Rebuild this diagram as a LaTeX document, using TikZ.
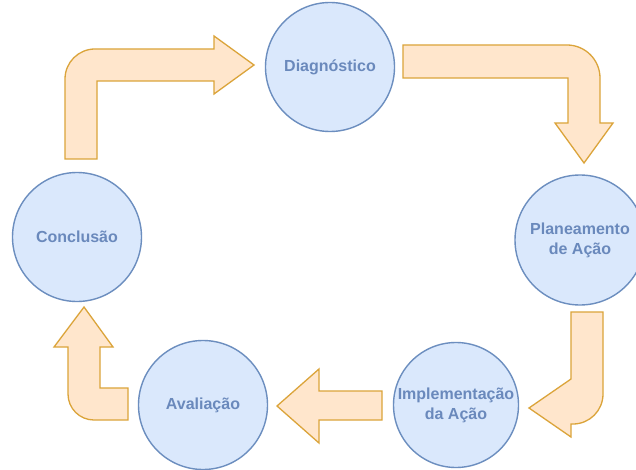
\documentclass[tikz,border=0pt]{standalone}
\usepackage{fontspec}
\setmainfont{Liberation Sans}
\definecolor{stagefill}{HTML}{DAE8FC}
\definecolor{stageline}{HTML}{6C8EBF}
\definecolor{stagetext}{HTML}{6A89BC}
\definecolor{flowfill}{HTML}{FFE6CC}
\definecolor{flowline}{HTML}{DBA43A}
\begin{document}
\begin{tikzpicture}[x=1pt,y=-1pt,
  stage/.style={circle, draw=stageline, fill=stagefill, line width=1.4pt,
    minimum size=#1, inner sep=0pt, align=center, text=stagetext,
    font=\fontsize{16}{20}\selectfont\bfseries},
  stage/.default=129pt,
  flow/.style={draw=flowline, fill=flowfill, line width=1.3pt, line join=miter}]
\useasboundingbox (0,0) rectangle (636,470);
\fill[white] (0,0) rectangle (636,470);

% stages of the cycle
\node[stage] (diag) at (330,67) {Diagnóstico};
\node[stage=130pt] (plan) at (580,240) {Planeamento\\de Ação};
\node[stage=125pt] (impl) at (456,405) {Implementação\\da Ação};
\node[stage] (aval) at (203,405) {Avaliação};
\node[stage] (conc) at (77,237) {Conclusão};

% Conclusão -> Diagnóstico (bent arrow, up then right)
\filldraw[flow] (65,159) -- (65,79)
  .. controls (65,62.4) and (78.4,49) .. (95,49)
  -- (214,49) -- (214,36) -- (254,65) -- (214,94) -- (214,81)
  -- (97,81) -- (97,159) -- cycle;

% Diagnóstico -> Planeamento (bent arrow, right then down)
\filldraw[flow] (403,45) -- (567,45)
  .. controls (585.2,45) and (600,59.8) .. (600,78)
  -- (600,123) -- (613,123) -- (584,163) -- (555,123) -- (568,123)
  -- (568,78) -- (403,78) -- cycle;

% Planeamento -> Implementação (hook arrow, down then left)
\filldraw[flow] (571,312) -- (603,312) -- (603,394)
  .. controls (603,410.6) and (589.6,424) .. (573,424)
  -- (571,424) -- (571,437) -- (529,408) -- (571,379) -- cycle;

% Implementação -> Avaliação (straight arrow, left)
\filldraw[flow] (382,391) -- (319,391) -- (319,369) -- (277,406)
  -- (319,443) -- (319,420) -- (382,420) -- cycle;

% Avaliação -> Conclusão (bent arrow, left then up)
\filldraw[flow] (128,420) -- (94,420)
  .. controls (79.6,420) and (68,408.4) .. (68,394)
  -- (68,347) -- (54,347) -- (84,307) -- (113,347) -- (100,347)
  -- (100,388) -- (128,388) -- cycle;
\end{tikzpicture}
\end{document}
